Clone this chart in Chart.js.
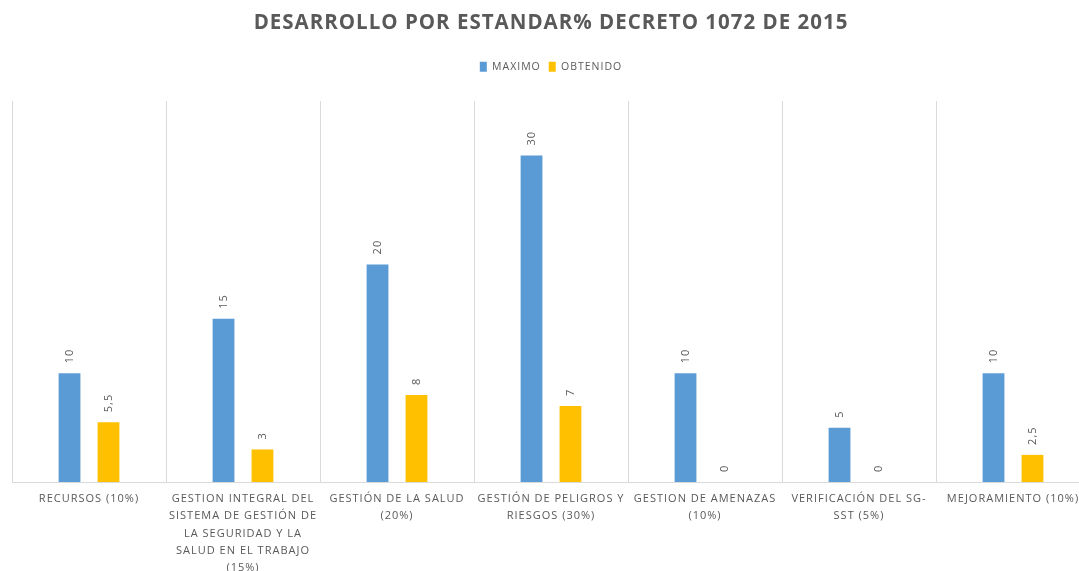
<!DOCTYPE html>
<html>
<head>
<meta charset="utf-8">
<script src="https://cdn.jsdelivr.net/npm/chart.js@4/dist/chart.umd.min.js"></script>
<style>
  html, body { margin: 0; padding: 0; background: #fff; overflow: hidden; }
  #wrap { width: 1079px; height: 571px; overflow: hidden; position: relative; }
  canvas { display: block; }
</style>
</head>
<body>
<div id="wrap"><canvas id="chart" width="1092" height="585"></canvas></div>
<script>
const categories = [
  "RECURSOS (10%)",
  ["GESTION INTEGRAL DEL", "SISTEMA DE GESTIÓN DE", "LA SEGURIDAD Y LA", "SALUD EN EL TRABAJO", "(15%)"],
  ["GESTIÓN DE LA SALUD", "(20%)"],
  ["GESTIÓN DE PELIGROS Y", "RIESGOS (30%)"],
  ["GESTION DE AMENAZAS", "(10%)"],
  ["VERIFICACIÓN DEL SG-", "SST (5%)"],
  "MEJORAMIENTO (10%)"
];
const maximo = [10, 15, 20, 30, 10, 5, 10];
const obtenido = [5.5, 3, 8, 7, 0, 0, 2.5];

const textGray = "#595959";
const gridGray = "#d9d9d9";

function formatValue(v) {
  return String(v).replace(".", ",");
}

// spacing between letters like the original (Excel style)
const letterSpacingPlugin = {
  id: "letterSpacing",
  beforeLayout(chart) { chart.ctx.letterSpacing = "1px"; },
  beforeDraw(chart) { chart.ctx.letterSpacing = "1px"; }
};

// rotated value labels above the bars
const valueLabels = {
  id: "valueLabels",
  afterDatasetsDraw(chart) {
    const ctx = chart.ctx;
    chart.data.datasets.forEach((ds, i) => {
      const meta = chart.getDatasetMeta(i);
      meta.data.forEach((bar, j) => {
        ctx.save();
        ctx.translate(bar.x, bar.y - 10);
        ctx.rotate(-Math.PI / 2);
        ctx.font = "11px 'Open Sans', sans-serif";
        ctx.fillStyle = textGray;
        ctx.textAlign = "left";
        ctx.textBaseline = "middle";
        ctx.fillText(formatValue(ds.data[j]), 0, 0);
        ctx.restore();
      });
    });
  }
};

const legendSpacing = {
  id: "legendSpacing",
  beforeInit(chart) {
    const origFit = chart.legend.fit;
    chart.legend.fit = function () {
      origFit.bind(chart.legend)();
      this.height += 19;
    };
  }
};

new Chart(document.getElementById("chart"), {
  type: "bar",
  data: {
    labels: categories,
    datasets: [
      {
        label: "MAXIMO",
        data: maximo,
        backgroundColor: "#5b9bd5",
        categoryPercentage: 0.506,
        barPercentage: 0.56
      },
      {
        label: "OBTENIDO",
        data: obtenido,
        backgroundColor: "#ffc000",
        categoryPercentage: 0.506,
        barPercentage: 0.56
      }
    ]
  },
  options: {
    responsive: false,
    animation: false,
    layout: { padding: { left: 12, right: 2, top: 0, bottom: 0 } },
    plugins: {
      title: {
        display: true,
        text: "DESARROLLO POR ESTANDAR% DECRETO 1072 DE 2015",
        color: textGray,
        font: { family: "'Open Sans', sans-serif", size: 20.5, weight: "bold" },
        padding: { top: 11, bottom: 18 }
      },
      legend: {
        display: true,
        labels: {
          color: textGray,
          font: { family: "'Open Sans', sans-serif", size: 10.5 },
          boxWidth: 7,
          boxHeight: 10,
          padding: 8
        }
      },
      tooltip: { enabled: false }
    },
    scales: {
      x: {
        grid: { display: true, color: gridGray, offset: true, drawTicks: false },
        border: { color: gridGray },
        ticks: {
          color: textGray,
          font: { family: "'Open Sans', sans-serif", size: 11, lineHeight: 1.58 },
          maxRotation: 0,
          minRotation: 0,
          autoSkip: false,
          padding: 8
        }
      },
      y: {
        display: false,
        min: 0,
        max: 35
      }
    }
  },
  plugins: [letterSpacingPlugin, valueLabels, legendSpacing]
});
</script>
</body>
</html>
